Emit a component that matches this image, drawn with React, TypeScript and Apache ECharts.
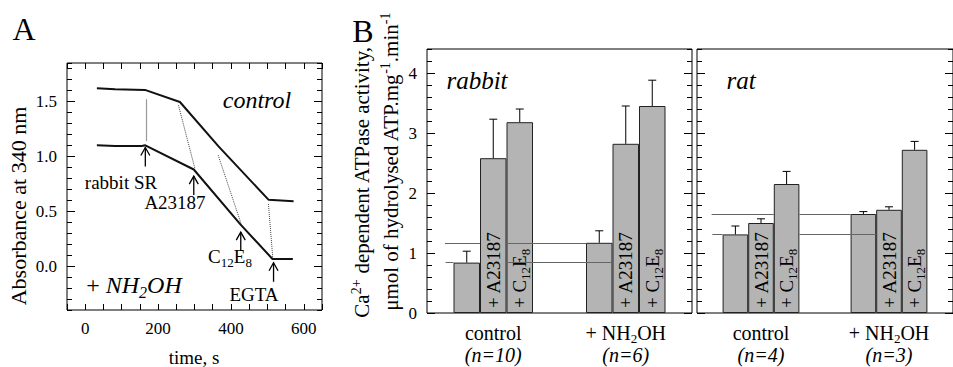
import React, { useEffect, useRef } from "react";
import * as echarts from "echarts";

// ---------------- Panel A data ----------------
const controlTime = [32, 82, 164, 260, 366, 503, 572];
const controlAbs = [1.62, 1.61, 1.605, 1.495, 1.09, 0.605, 0.59];
const nh2ohTime = [32, 82, 155, 165, 298, 426, 514, 570];
const nh2ohAbs = [1.1, 1.095, 1.093, 1.1, 0.88, 0.38, 0.065, 0.065];
const guideFrom = [
  [167, 1.52],
  [256, 1.465],
  [365, 1.01],
  [503, 0.565],
];
const guideTo = [
  [167, 1.14],
  [301, 0.89],
  [430, 0.365],
  [515, 0.07],
];
const arrowTime = [165, 298, 427, 517];
const arrowAbs = [1.08, 0.82, 0.31, 0.03];
const xTicksA = [0, 200, 400, 600];
const yTicksA = [0, 0.5, 1.0, 1.5];

// ---------------- Panel B data ----------------
const slots = ["s0", "s1", "s2", "s3", "s4", "s5", "s6", "s7", "s8", "s9"];
const groups = ["control", "+ NH2OH"];
const treatments = ["", "+ A23187", "+ C12E8"];
const rabbitControl = [0.84, 2.58, 3.18];
const rabbitControlSE = [0.19, 0.65, 0.22];
const rabbitNH2OH = [1.17, 2.82, 3.45];
const rabbitNH2OHSE = [0.2, 0.63, 0.43];
const ratControl = [1.31, 1.5, 2.15];
const ratControlSE = [0.14, 0.07, 0.21];
const ratNH2OH = [1.65, 1.72, 2.72];
const ratNH2OHSE = [0.04, 0.05, 0.14];
const rabbitN = [10, 6];
const ratN = [4, 3];
const yTicksB = [0, 1, 2, 3, 4];
// reference line segments (in slot units)
const rabbitUpperSegs = [[0.68, 2], [3, 6]];
const rabbitLowerSegs = [[0.7, 1], [3, 7]];
const ratUpperSegs = [[0.57, 3], [4, 6]];
const ratLowerSegs = [[0.6, 1], [4, 7]];

const F = "'Liberation Serif', 'Times New Roman', 'DejaVu Serif', serif";
const tickLine = { color: "#000", width: 1 };

const treatmentRich: Record<string, string> = {
  "+ A23187": "{t|+ A23187}",
  "+ C12E8": "{t|+ C}{s|12}{t|E}{s|8}",
};
const groupRich: Record<string, string> = {
  control: "{r|control}",
  "+ NH2OH": "{r|+ NH}{s|2}{r|OH}",
};

function barItems(ctrl: number[], nh: number[]) {
  const g = (vals: number[]) =>
    vals.map((v, i) =>
      treatments[i]
        ? { value: v, label: { show: true, formatter: treatmentRich[treatments[i]] } }
        : v
    );
  return ["-", ...g(ctrl), "-", "-", ...g(nh), "-"];
}

function errData(ctrl: number[], cse: number[], nh: number[], nse: number[]) {
  return [
    ...ctrl.map((v, i) => [i + 1, v, v + cse[i]]),
    ...nh.map((v, i) => [i + 6, v, v + nse[i]]),
  ];
}

function yMajor(gridIndex: number, position: string, min: number, max: number, ticks: number[], fmt: ((v: number) => string) | null) {
  return {
    gridIndex,
    type: "value",
    min,
    max,
    position,
    axisLine: { show: false, onZero: false },
    splitLine: { show: false },
    axisTick: { show: true, inside: true, length: 8, customValues: ticks, lineStyle: tickLine },
    axisLabel: fmt
      ? { show: true, customValues: ticks, formatter: fmt, margin: 10, fontSize: 17, fontFamily: F, color: "#000" }
      : { show: false },
  };
}
function yMinor(gridIndex: number, position: string, min: number, max: number, interval: number) {
  return {
    gridIndex,
    type: "value",
    min,
    max,
    interval,
    position,
    axisLine: { show: false, onZero: false },
    splitLine: { show: false },
    axisTick: { show: true, inside: true, length: 5, lineStyle: tickLine },
    axisLabel: { show: false },
  };
}

function groupAxis(gridIndex: number, n: number[]) {
  return {
    gridIndex,
    type: "category",
    data: groups,
    position: "bottom",
    axisLine: { show: false, onZero: false },
    axisTick: { show: false },
    axisLabel: {
      interval: 0,
      margin: 9,
      fontFamily: F,
      formatter: (v: string, i: number) => groupRich[v] + "\n{n|(n=" + n[i] + ")}",
      rich: {
        r: { fontFamily: F, fontSize: 20, lineHeight: 22, color: "#000" },
        s: { fontFamily: F, fontSize: 13, lineHeight: 22, height: 12, verticalAlign: "bottom", color: "#000" },
        n: { fontFamily: F, fontSize: 20, fontStyle: "italic", lineHeight: 22, color: "#000" },
      },
    },
  };
}

function barSeries(xi: number, yi: number, ctrl: number[], nh: number[]) {
  return {
    type: "bar",
    xAxisIndex: xi,
    yAxisIndex: yi,
    barCategoryGap: "0%",
    z: 2,
    silent: true,
    data: barItems(ctrl, nh),
    itemStyle: { color: "#b4b4b4", borderColor: "#222", borderWidth: 1 },
    label: {
      show: false,
      position: "insideBottom",
      rotate: 90,
      align: "left",
      verticalAlign: "middle",
      distance: 5,
      color: "#000",
      fontFamily: F,
      rich: {
        t: { fontFamily: F, fontSize: 19, lineHeight: 24, color: "#000" },
        s: { fontFamily: F, fontSize: 13, lineHeight: 24, height: 12, verticalAlign: "bottom", color: "#000" },
      },
    },
  };
}

function errSeries(xi: number, yi: number, data: number[][]) {
  return {
    type: "custom",
    xAxisIndex: xi,
    yAxisIndex: yi,
    z: 3,
    silent: true,
    data,
    renderItem: (_p: any, api: any) => {
      const b = api.coord([api.value(0), api.value(1)]);
      const t = api.coord([api.value(0), api.value(2)]);
      const st = { stroke: "#000", lineWidth: 1 };
      return {
        type: "group",
        children: [
          { type: "line", shape: { x1: b[0], y1: b[1], x2: t[0], y2: t[1] }, style: st },
          { type: "line", shape: { x1: t[0] - 4, y1: t[1], x2: t[0] + 4, y2: t[1] }, style: st },
        ],
      };
    },
  };
}

function refSeries(xi: number, yi: number, upper: number, upSegs: number[][], lower: number, lowSegs: number[][]) {
  return {
    type: "lines",
    coordinateSystem: "cartesian2d",
    xAxisIndex: xi,
    yAxisIndex: yi,
    z: 4,
    silent: true,
    lineStyle: { color: "#666", width: 1, type: "solid", opacity: 1 },
    data: [
      ...upSegs.map((s) => ({ coords: [[s[0], upper], [s[1], upper]] })),
      ...lowSegs.map((s) => ({ coords: [[s[0], lower], [s[1], lower]] })),
    ],
  };
}

function txt(x: number, y: number, text: string, fontSize: number, extra: any = {}, rotation = 0) {
  return {
    type: "text",
    x,
    y,
    rotation,
    silent: true,
    style: {
      text,
      fontFamily: F,
      fontSize,
      fill: "#000",
      align: "center",
      verticalAlign: "middle",
      ...extra,
    },
  };
}

export default function App() {
  const ref = useRef<HTMLDivElement>(null);
  useEffect(() => {
    if (!ref.current) return;
    const chart = echarts.init(ref.current, undefined, { renderer: "svg" });
    const gridBase = { show: true, borderColor: "#000", borderWidth: 1, backgroundColor: "transparent" };
    const option: any = {
      animation: false,
      textStyle: { fontFamily: F, color: "#000" },
      grid: [
        { ...gridBase, left: 67, top: 63, width: 255, height: 247 },
        { ...gridBase, left: 427, top: 49, width: 265, height: 264 },
        { ...gridBase, left: 697, top: 49, width: 265, height: 264 },
      ],
      xAxis: [
        {
          gridIndex: 0,
          type: "value",
          min: -50,
          max: 650,
          interval: 50,
          position: "bottom",
          axisLine: { show: false, onZero: false },
          splitLine: { show: false },
          axisTick: { inside: true, length: 6, lineStyle: tickLine },
          axisLabel: {
            margin: 10,
            fontSize: 17,
            fontFamily: F,
            color: "#000",
            formatter: (v: number) => (xTicksA.includes(v) ? String(v) : ""),
          },
        },
        {
          gridIndex: 0,
          type: "value",
          min: -50,
          max: 650,
          interval: 50,
          position: "top",
          axisLine: { show: false, onZero: false },
          splitLine: { show: false },
          axisTick: { inside: true, length: 6, lineStyle: tickLine },
          axisLabel: { show: false },
        },
        { gridIndex: 1, type: "category", data: slots, show: false },
        groupAxis(1, rabbitN),
        { gridIndex: 1, type: "value", min: 0, max: 10, show: false },
        { gridIndex: 2, type: "category", data: slots, show: false },
        groupAxis(2, ratN),
        { gridIndex: 2, type: "value", min: 0, max: 10, show: false },
      ],
      yAxis: [
        yMajor(0, "left", -0.4, 1.85, yTicksA, (v) => v.toFixed(1)),
        yMinor(0, "left", -0.4, 1.85, 0.1),
        yMajor(0, "right", -0.4, 1.85, yTicksA, null),
        yMinor(0, "right", -0.4, 1.85, 0.1),
        yMajor(1, "left", 0, 4.4, yTicksB, (v) => String(v)),
        yMinor(1, "left", 0, 4.4, 0.2),
        yMajor(1, "right", 0, 4.4, yTicksB, null),
        yMinor(1, "right", 0, 4.4, 0.2),
        yMajor(2, "left", 0, 4.4, yTicksB, null),
        yMinor(2, "left", 0, 4.4, 0.2),
        yMajor(2, "right", 0, 4.4, yTicksB, null),
        yMinor(2, "right", 0, 4.4, 0.2),
      ],
      series: [
        {
          type: "line",
          xAxisIndex: 0,
          yAxisIndex: 0,
          showSymbol: false,
          symbol: "none",
          silent: true,
          lineStyle: { color: "#111", width: 2 },
          data: controlTime.map((t, i) => [t, controlAbs[i]]),
        },
        {
          type: "line",
          xAxisIndex: 0,
          yAxisIndex: 0,
          showSymbol: false,
          symbol: "none",
          silent: true,
          lineStyle: { color: "#111", width: 2 },
          data: nh2ohTime.map((t, i) => [t, nh2ohAbs[i]]),
        },
        {
          type: "lines",
          coordinateSystem: "cartesian2d",
          xAxisIndex: 0,
          yAxisIndex: 0,
          silent: true,
          lineStyle: { color: "#444", width: 1, type: "dotted", opacity: 1 },
          data: guideFrom.map((p, i) =>
            i === 0
              ? { coords: [p, guideTo[i]], lineStyle: { type: "solid", color: "#999", width: 1.2 } }
              : { coords: [p, guideTo[i]] }
          ),
        },
        {
          type: "custom",
          xAxisIndex: 0,
          yAxisIndex: 0,
          z: 5,
          silent: true,
          data: arrowTime.map((t, i) => [t, arrowAbs[i]]),
          renderItem: (_p: any, api: any) => {
            const c = api.coord([api.value(0), api.value(1)]);
            const x = c[0];
            const y = c[1];
            const st = { stroke: "#000", lineWidth: 1.3, fill: "none" };
            return {
              type: "group",
              children: [
                { type: "line", shape: { x1: x, y1: y, x2: x, y2: y + 19 }, style: st },
                { type: "polyline", shape: { points: [[x - 4.5, y + 8], [x, y], [x + 4.5, y + 8]] }, style: st },
              ],
            };
          },
        },
        barSeries(2, 4, rabbitControl, rabbitNH2OH),
        errSeries(2, 4, errData(rabbitControl, rabbitControlSE, rabbitNH2OH, rabbitNH2OHSE)),
        refSeries(4, 4, rabbitNH2OH[0], rabbitUpperSegs, rabbitControl[0], rabbitLowerSegs),
        barSeries(5, 8, ratControl, ratNH2OH),
        errSeries(5, 8, errData(ratControl, ratControlSE, ratNH2OH, ratNH2OHSE)),
        refSeries(7, 8, ratNH2OH[0], ratUpperSegs, ratControl[0], ratLowerSegs),
      ],
      graphic: [
        txt(24, 29, "A", 32),
        txt(363, 31, "B", 32),
        txt(257, 100, "control", 24, { fontStyle: "italic" }),
        txt(134, 285, "{r|+ }{i|NH}{s|2}{i|OH}", 24, {
          rich: {
            r: { fontFamily: F, fontSize: 24, lineHeight: 28 },
            i: { fontFamily: F, fontSize: 24, fontStyle: "italic", lineHeight: 28 },
            s: { fontFamily: F, fontSize: 16, fontStyle: "italic", lineHeight: 28, height: 14, verticalAlign: "bottom" },
          },
        }),
        txt(121, 182, "rabbit SR", 19),
        txt(175, 202, "A23187", 19),
        txt(230, 256, "{a|C}{s|12}{a|E}{s|8}", 19, {
          rich: {
            a: { fontFamily: F, fontSize: 19, lineHeight: 24 },
            s: { fontFamily: F, fontSize: 13, lineHeight: 24, height: 12, verticalAlign: "bottom" },
          },
        }),
        txt(254, 294, "EGTA", 19),
        txt(194, 357, "time, s", 19),
        txt(18, 206, "Absorbance at 340 nm", 22, {}, Math.PI / 2),
        txt(362, 182, "{a|Ca}{p|2+}{a| dependent ATPase activity,}", 21, {
          rich: {
            a: { fontFamily: F, fontSize: 21, lineHeight: 26 },
            p: { fontFamily: F, fontSize: 14, lineHeight: 26, height: 14, verticalAlign: "top" },
          },
        }, Math.PI / 2),
        txt(391, 162, "{a|\u03bcmol of hydrolysed ATP.mg}{p|-1}{a|.min}{p|-1}", 21, {
          rich: {
            a: { fontFamily: F, fontSize: 21, lineHeight: 26 },
            p: { fontFamily: F, fontSize: 14, lineHeight: 26, height: 14, verticalAlign: "top" },
          },
        }, Math.PI / 2),
        txt(477, 80, "rabbit", 25, { fontStyle: "italic" }),
        txt(741, 80, "rat", 25, { fontStyle: "italic" }),
      ],
    };
    chart.setOption(option);
    return () => chart.dispose();
  }, []);
  return (
    <div
      ref={ref}
      style={{ position: "fixed", left: 0, top: 0, width: 953, height: 367, background: "#fff" }}
    />
  );
}
